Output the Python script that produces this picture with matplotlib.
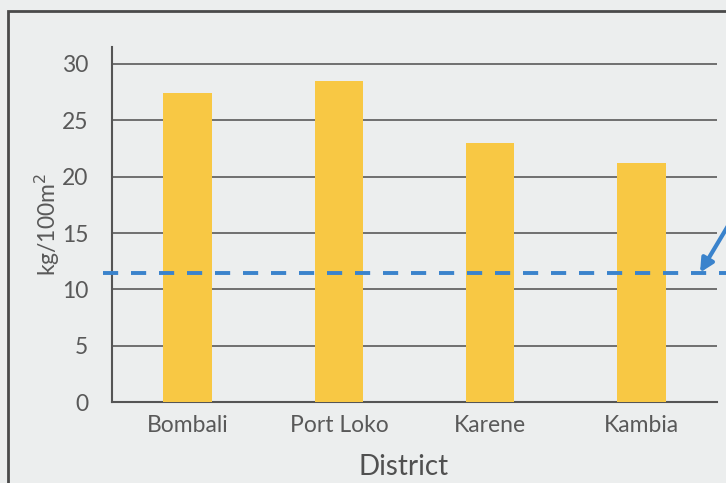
import matplotlib

matplotlib.use("Agg")
from matplotlib import pyplot as plt
from matplotlib.patches import Rectangle

districts = ["Bombali", "Port Loko", "Karene", "Kambia"]
yields = [27.4, 28.5, 23.0, 21.2]
reference_level = 11.5
yticks = [0, 5, 10, 15, 20, 25, 30]

BG = "#eceeee"
TEXT = "#595959"
GRID = "#5a5a5a"
BAR = "#f8c844"
BLUE = "#3a83cc"

plt.rcParams["font.family"] = ["Lato", "DejaVu Sans"]

fig = plt.figure(figsize=(7.26, 4.83), dpi=100, facecolor=BG)
ax = fig.add_axes([0.1543, 0.1671, 0.8333, 0.7356])
ax.set_facecolor("none")

# outer frame of the chart (runs off the right/bottom of the crop)
fig.patches.append(
    Rectangle((8 / 726, -0.05), 1.1, 1 - 11 / 483 + 0.05,
              transform=fig.transFigure, fill=False,
              edgecolor="#4a4a4a", linewidth=2.0, zorder=0)
)

x = range(len(districts))
ax.bar(x, yields, width=0.32, color=BAR, zorder=3)

ax.set_xlim(-0.5, len(districts) - 0.5)
ax.set_ylim(0, 31.5)
ax.set_yticks(yticks)
ax.set_xticks(list(x))
ax.set_xticklabels(districts)
ax.yaxis.grid(True, color=GRID, linewidth=1.2, zorder=1)
ax.set_axisbelow(True)

for side in ("top", "right"):
    ax.spines[side].set_visible(False)
for side in ("left", "bottom"):
    ax.spines[side].set_color("#555555")
    ax.spines[side].set_linewidth(1.5)

ax.tick_params(axis="y", length=0, pad=17, labelsize=16.5, labelcolor=TEXT)
ax.tick_params(axis="x", length=0, pad=9, labelsize=16.5, labelcolor=TEXT)

ax.set_ylabel("kg/100m$^2$", fontsize=16.5, color=TEXT)
ax.yaxis.set_label_coords(-0.083, 0.5)
ax.set_xlabel("District", fontsize=20, color="#505050")
ax.xaxis.set_label_coords(0.482, -0.145)

ax.axhline(reference_level, xmin=-0.015, xmax=1.02, color=BLUE,
           linewidth=2.8, linestyle=(0, (3.9, 3.3)), clip_on=False, zorder=4)

ax.annotate("", xy=(0.972, reference_level), xycoords=("axes fraction", "data"),
            xytext=(1.04, 17.6), textcoords=("axes fraction", "data"),
            arrowprops=dict(arrowstyle="-|>", color=BLUE, lw=3,
                            mutation_scale=20, shrinkA=0, shrinkB=0),
            annotation_clip=False)

fig.savefig("out.png", dpi=100, facecolor=BG)
